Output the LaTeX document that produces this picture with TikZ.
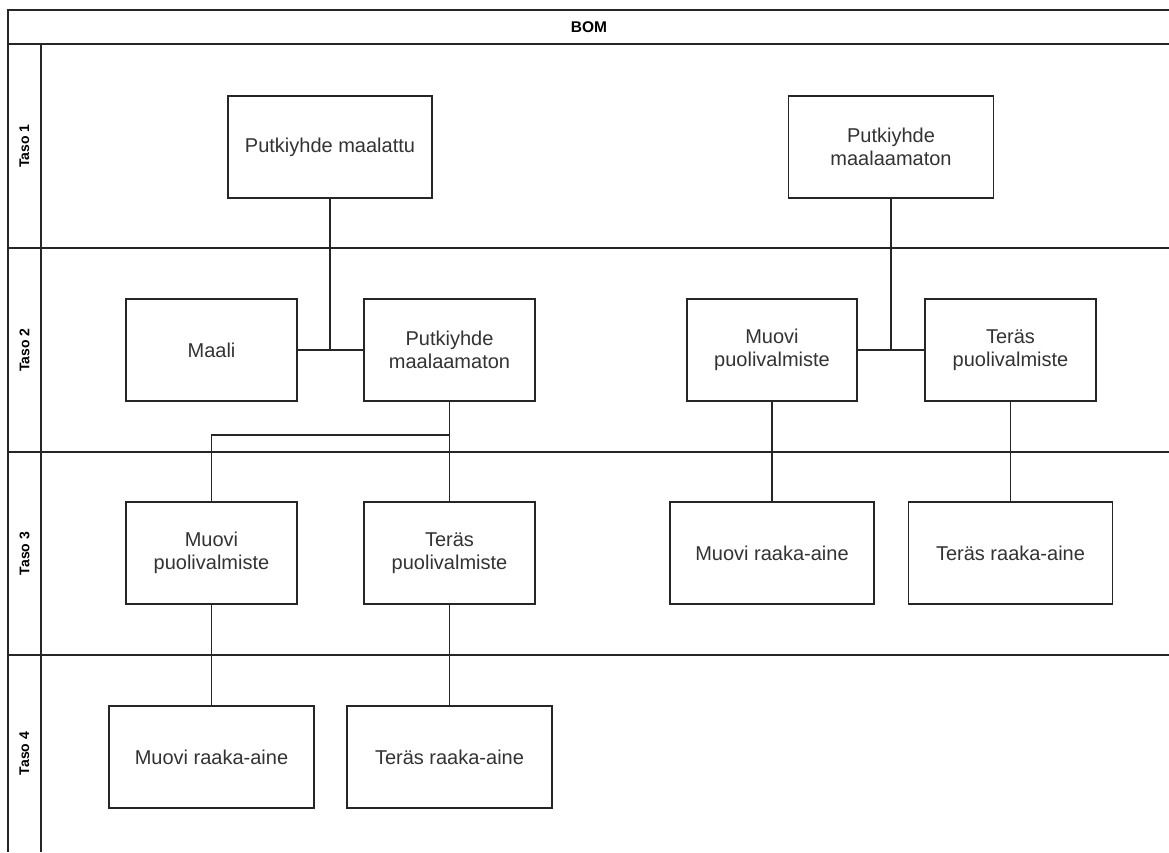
\documentclass[tikz,border=0pt]{standalone}
\usepackage{fontspec}
\setmainfont{Liberation Sans}
\definecolor{txt}{HTML}{333333}
\begin{document}
\begin{tikzpicture}[x=1pt,y=-1pt,
  frame/.style={line width=1.3pt,draw=black!85},
  item/.style={draw=black!85,line width=1.3pt,fill=white,inner sep=2pt,minimum height=102pt,
    align=center,text=txt,font=\fontsize{20}{23}\selectfont},
  lane/.style={rotate=90,font=\bfseries\fontsize{14}{16}\selectfont,text=black},
  link/.style={draw=black!85,line width=1.3pt}]
\useasboundingbox[fill=white] (0,0) rectangle (1169,852);
% pool frame
\draw[frame] (1169,10) -- (8,10) -- (8,852);
\draw[frame] (8,44) -- (1169,44);
\draw[frame] (41,44) -- (41,852);
\draw[frame] (8,248) -- (1169,248);
\draw[frame] (8,452) -- (1169,452);
\draw[frame] (8,655) -- (1169,655);
\node[font=\bfseries\fontsize{15.5}{18}\selectfont] (title) at (589,27) {BOM};
\node[lane] (l1) at (24.5,146) {Taso 1};
\node[lane] (l2) at (24.5,350) {Taso 2};
\node[lane] (l3) at (24.5,553.5) {Taso 3};
\node[lane] (l4) at (24.5,753.5) {Taso 4};
% boxes
\node[item,minimum width=204pt] (A) at (330,147) {Putkiyhde maalattu};
\node[item,minimum width=205pt] (B) at (891,147) {Putkiyhde\\maalaamaton};
\node[item,minimum width=171pt] (C) at (211.5,350) {Maali};
\node[item,minimum width=171pt] (D) at (449.5,350) {Putkiyhde\\maalaamaton};
\node[item,minimum width=171pt] (E) at (211.5,553) {Muovi\\puolivalmiste};
\node[item,minimum width=171pt] (F) at (449.5,553) {Teräs\\puolivalmiste};
\node[item,minimum width=205pt] (G) at (211.5,757) {Muovi raaka-aine};
\node[item,minimum width=205pt] (H) at (449.5,757) {Teräs raaka-aine};
\node[item,minimum width=170pt] (I) at (772,350) {Muovi\\puolivalmiste};
\node[item,minimum width=171pt] (J) at (1010.5,350) {Teräs\\puolivalmiste};
\node[item,minimum width=204pt] (K) at (772,553) {Muovi raaka-aine};
\node[item,minimum width=204pt] (L) at (1010.5,553) {Teräs raaka-aine};
% connectors
\draw[link] (C.east) -- (D.west);
\draw[link] (A.south) -- (A.south |- C.east);
\draw[link] (I.east) -- (J.west);
\draw[link] (B.south) -- (B.south |- I.east);
\coordinate (jD) at (449.5,435);
\draw[link] (D.south) -- (F.north);
\draw[link] (jD) -| (E.north);
\draw[link] (E.south) -- (G.north);
\draw[link] (F.south) -- (H.north);
\draw[link] (I.south) -- (K.north);
\draw[link] (J.south) -- (L.north);
\end{tikzpicture}
\end{document}
